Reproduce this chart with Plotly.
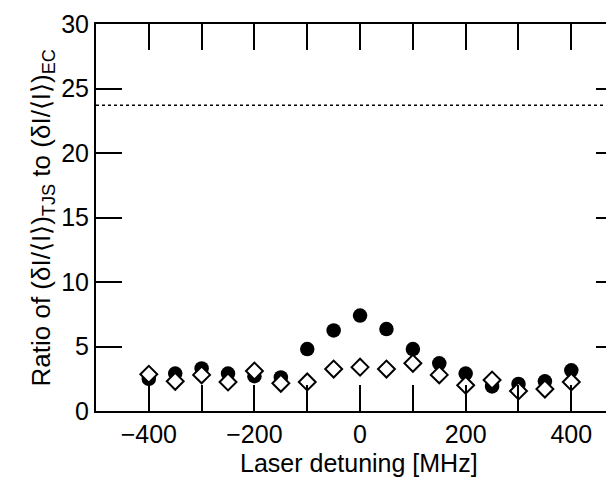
import plotly.graph_objects as go

detuning = [-400, -350, -300, -250, -200, -150, -100, -50, 0, 50, 100, 150, 200, 250, 300, 350, 400]
ratio_filled = [2.5, 2.9, 3.3, 2.9, 2.7, 2.6, 4.8, 6.25, 7.4, 6.35, 4.8, 3.7, 2.9, 1.9, 2.1, 2.3, 3.15]
ratio_open = [2.85, 2.3, 2.8, 2.25, 3.1, 2.15, 2.25, 3.25, 3.4, 3.25, 3.7, 2.8, 2.0, 2.4, 1.55, 1.7, 2.25]
ec_level = 23.7
x_tickvals = [-400, -200, 0, 200, 400]
x_ticktext = ["\u2212400", "\u2212200", "0", "200", "400"]
y_tickvals = [0, 5, 10, 15, 20, 25, 30]
x_range = [-500, 496]
y_range = [0, 30]

fig = go.Figure()
fig.add_trace(go.Scatter(
    x=x_range, y=[ec_level, ec_level], mode="lines",
    line=dict(color="black", width=1.5, dash="dot"), showlegend=False))
fig.add_trace(go.Scatter(
    x=detuning, y=ratio_filled, mode="markers",
    marker=dict(symbol="circle", size=14.5, color="black"), showlegend=False))
fig.add_trace(go.Scatter(
    x=detuning, y=ratio_open, mode="markers",
    marker=dict(symbol="diamond", size=13, color="white",
                line=dict(color="black", width=2)), showlegend=False))
fig.add_trace(go.Scatter(x=[], y=[], yaxis="y2", showlegend=False))

fam = "Liberation Sans, Arial, Helvetica, sans-serif"
fig.update_layout(
    width=614, height=481,
    margin=dict(l=88, r=0, t=16, b=78),
    plot_bgcolor="white", paper_bgcolor="white",
    font=dict(family=fam, size=25, color="black"),
    xaxis=dict(range=x_range, tickvals=x_tickvals, ticktext=x_ticktext,
               ticks="inside", ticklen=26, tickwidth=1.5, tickcolor="black",
               minor=dict(dtick=100, tick0=0, ticks="inside", ticklen=26,
                          tickwidth=1.5, tickcolor="black"),
               showline=True, linecolor="black", linewidth=2, mirror="ticks",
               showgrid=False, zeroline=False, automargin=False,
               tickfont=dict(family=fam, size=25)),
    yaxis=dict(range=y_range, tickvals=y_tickvals,
               ticks="inside", ticklen=26, tickwidth=1.5, tickcolor="black",
               showline=True, linecolor="black", linewidth=2, mirror=False,
               showgrid=False, zeroline=False, automargin=False,
               tickfont=dict(family=fam, size=25)),
    yaxis2=dict(range=y_range, tickvals=y_tickvals, overlaying="y", side="right",
                anchor="x", ticks="inside", ticklen=26, tickwidth=1.5, tickcolor="black",
                showticklabels=False, showline=False, showgrid=False, zeroline=False,
                automargin=False),
    annotations=[
        dict(text="Laser detuning [MHz]", xref="paper", yref="paper",
             x=0.5, y=-0.135, xanchor="center", yanchor="middle",
             showarrow=False, font=dict(family=fam, size=25)),
        dict(text="Ratio of (\u03b4I/\u27e8I\u27e9)<sub>TJS</sub> to (\u03b4I/\u27e8I\u27e9)<sub>EC</sub>",
             xref="paper", yref="paper", x=(34 - 88) / 526, y=0.5,
             xanchor="center", yanchor="middle", textangle=-90,
             showarrow=False, font=dict(family=fam, size=26)),
    ],
)
fig.write_html("out.html")
